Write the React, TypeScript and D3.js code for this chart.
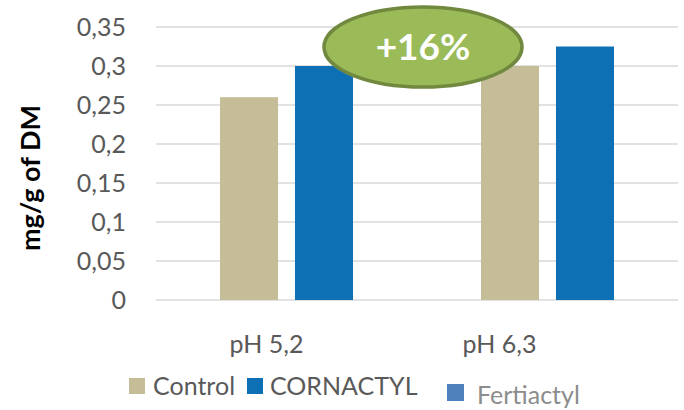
import * as d3 from "d3";

const categories = ["pH 5,2", "pH 6,3"];
const seriesNames = ["Control", "CORNACTYL"];
const controlValues = [0.26, 0.3];
const cornactylValues = [0.3, 0.325];
const yTicks = [0, 0.05, 0.1, 0.15, 0.2, 0.25, 0.3, 0.35];
const colors = ["#C4BD97", "#0E70B4"];

const W = 684;
const H = 410;
const font = "Lato, 'Open Sans', sans-serif";

export default function App() {
  const margin = { left: 156, right: 6, top: 27, bottom: 110 };
  const x = d3
    .scaleBand<string>()
    .domain(categories)
    .range([margin.left, W - margin.right]);
  const inner = d3
    .scaleBand<string>()
    .domain(seriesNames)
    .range([0, 133])
    .paddingInner(0.226);
  const y = d3.scaleLinear().domain([0, 0.35]).range([300, margin.top]);
  const fmt = (v: number) => String(v).replace(".", ",");
  const series = [controlValues, cornactylValues];

  return (
    <svg
      width={W}
      height={H}
      style={{ position: "absolute", left: 0, top: 0, background: "#fff" }}
      fontFamily={font}
    >
      {yTicks.map((t) => (
        <g key={t}>
          <line x1={margin.left} x2={W - margin.right} y1={y(t)} y2={y(t)} stroke="#D9D9D9" strokeWidth={1.3} />
          <text x={126} y={y(t)} dy="0.36em" textAnchor="end" fontSize={25} fill="#595959">
            {fmt(t)}
          </text>
        </g>
      ))}
      {categories.map((c, ci) =>
        seriesNames.map((s, si) => {
          const v = series[si][ci];
          const bx = x(c)! + (x.bandwidth() - 133) / 2 + inner(s)!;
          return (
            <rect key={c + s} x={bx} y={y(v)} width={inner.bandwidth()} height={y(0) - y(v)} fill={colors[si]} />
          );
        })
      )}
      {categories.map((c, ci) => (
        <text key={c} x={x(c)! + x.bandwidth() / 2 + (ci === 0 ? -20 : -48)} y={353} textAnchor="middle" fontSize={25} fill="#595959">
          {c}
        </text>
      ))}
      <text
        transform="translate(40,178) rotate(-90)"
        textAnchor="middle"
        fontSize={27}
        fontWeight="bold"
        fill="#000"
      >
        mg/g of DM
      </text>
      <ellipse cx={423} cy={47} rx={99} ry={40} fill="#9BBB59" stroke="#71893F" strokeWidth={3.5} />
      <text x={423} y={60} textAnchor="middle" fontSize={37} fontWeight="bold" fill="#fff">
        +16%
      </text>
      <rect x={129} y={378} width={16} height={16} fill={colors[0]} />
      <text x={153} y={395} fontSize={25} fill="#595959">Control</text>
      <rect x={247} y={378} width={16} height={16} fill={colors[1]} />
      <text x={270} y={395} fontSize={25} fill="#595959">CORNACTYL</text>
      <rect x={447} y={384} width={17} height={17} fill="#4F81BD" />
      <text x={477} y={404} fontSize={25} fill="#8C8C8C">Fertiactyl</text>
    </svg>
  );
}
